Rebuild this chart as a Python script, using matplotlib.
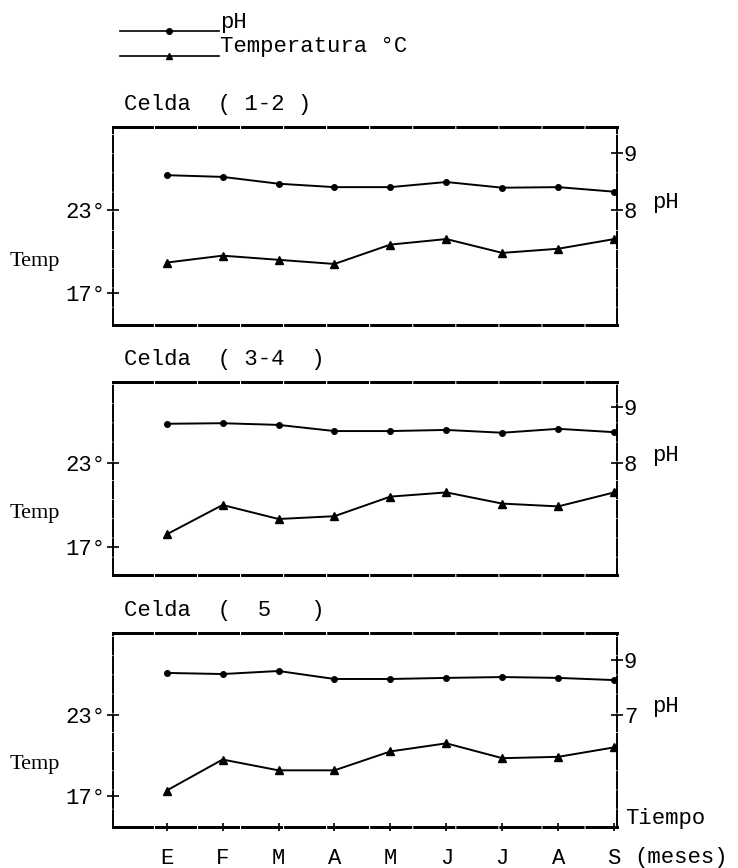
import numpy as np
import matplotlib
import matplotlib.pyplot as plt
import matplotlib.transforms as mtransforms
from matplotlib.lines import Line2D

matplotlib.rc('font', family='Liberation Mono', size=16)

meses = ['E', 'F', 'M', 'A', 'M', 'J', 'J', 'A', 'S']

# monthly means per cell
ph_12 = [8.61, 8.58, 8.46, 8.40, 8.40, 8.49, 8.39, 8.40, 8.32]
temp_12 = [19.2, 19.7, 19.4, 19.1, 20.5, 20.9, 19.9, 20.2, 20.9]

ph_34 = [8.70, 8.71, 8.68, 8.57, 8.57, 8.59, 8.54, 8.61, 8.55]
temp_34 = [17.9, 20.0, 19.0, 19.2, 20.6, 20.9, 20.1, 19.9, 20.9]

ph_5 = [8.53, 8.49, 8.60, 8.31, 8.31, 8.35, 8.38, 8.35, 8.27]
temp_5 = [17.4, 19.7, 18.9, 18.9, 20.3, 20.9, 19.8, 19.9, 20.6]

celdas = ['( 1-2 )', '( 3-4  )', '(  5   )']
ph_data = [ph_12, ph_34, ph_5]
temp_data = [temp_12, temp_34, temp_5]
ph_ticks = [[8, 9], [8, 9], [7, 9]]

# axes placement and limits for each panel
pos = [[0.153, 0.6256, 0.683, 0.2281],
       [0.153, 0.3376, 0.683, 0.2223],
       [0.153, 0.0472, 0.683, 0.2235]]
tlims = [(14.69, 29.0), (15.0, 28.79), (14.70, 29.07)]
plims = [(5.98, 9.456), (6.0, 9.446), (2.93, 9.98)]

x = np.arange(len(meses))
dash = (0, (14, 1.5))

fig = plt.figure(figsize=(7.38, 8.68), dpi=100)

for i in range(3):
    ax = fig.add_axes(pos[i])
    ax2 = ax.twinx()
    ax.plot(x, temp_data[i], color='black', lw=1.4, marker='^', ms=5.5)
    ax2.plot(x, ph_data[i], color='black', lw=1.4, marker='o', ms=4)
    ax.set_xlim(-0.96, 8.05)
    ax.set_ylim(*tlims[i])
    ax2.set_ylim(*plims[i])
    ax.set_yticks([17, 23])
    ax.set_yticklabels(['17°', '23°'])
    ax2.set_yticks(ph_ticks[i])
    ax.tick_params(axis='y', direction='inout', length=8, width=1.2, pad=1)
    ax2.tick_params(axis='y', direction='inout', length=8, width=1.2, pad=1)
    for a in (ax, ax2):
        for s in ('top', 'bottom'):
            a.spines[s].set_linewidth(2.0)
            a.spines[s].set_linestyle(dash)
        for s in ('left', 'right'):
            a.spines[s].set_linewidth(1.2)
            a.spines[s].set_linestyle((0, (10, 1.5)))
    ax.text(0.022, 1.06, 'Celda  ' + celdas[i], transform=ax.transAxes,
            ha='left', va='bottom')
    ax.text(-0.205, 0.32, 'Temp', transform=ax.transAxes, ha='left',
            va='center', family='Liberation Serif', size=16)
    ax2.text(1.07, 0.62, 'pH', transform=ax.transAxes, ha='left',
             va='center')
    if i < 2:
        ax.set_xticks([])
    else:
        ax.set_xticks(x)
        ax.set_xticklabels(meses)
        ax.tick_params(axis='x', direction='inout', length=6, width=1.2,
                       pad=12)
        ax.text(8.2, 15.3, 'Tiempo', ha='left', va='center')
        ax.text(8.35, 12.45, '(meses)', ha='left', va='center')

handles = [Line2D([], [], color='black', lw=1.2, marker='o', ms=4),
           Line2D([], [], color='black', lw=1.2, marker='^', ms=5)]
leg = fig.legend(handles, ['pH', 'Temperatura °C'], loc='upper left',
                 bbox_to_anchor=(0.138, 0.994), frameon=False,
                 handlelength=4.45, handletextpad=0.05, labelspacing=0.15,
                 borderpad=0.3)
# labels sit above their lines
lift = mtransforms.ScaledTranslation(0, 0.11, fig.dpi_scale_trans)
for t in leg.get_texts():
    t.set_transform(t.get_transform() + lift)

fig.savefig('out.png', dpi=100)
